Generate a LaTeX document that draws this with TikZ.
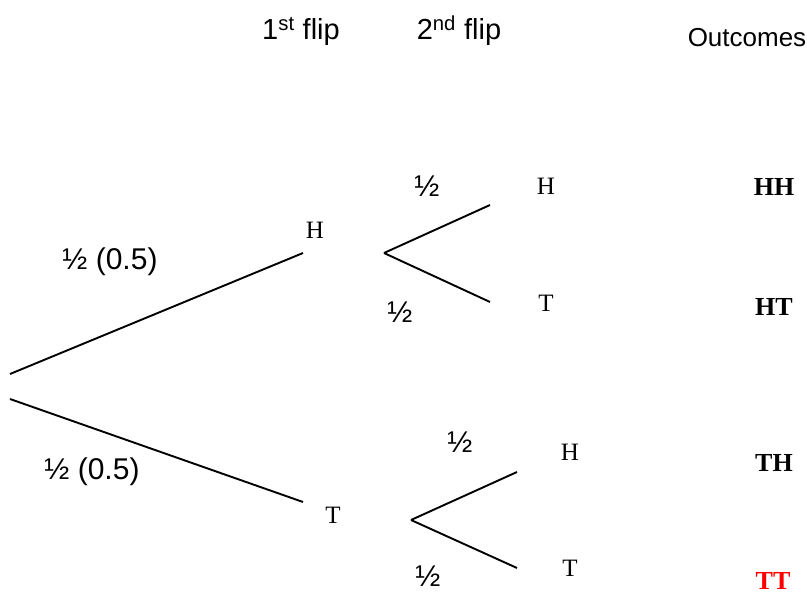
\documentclass[tikz,border=0pt]{standalone}
\usepackage{fontspec}
\setmainfont{Liberation Serif}
\newfontfamily\headfont{Liberation Sans}
\tikzset{
  branch/.style={line width=1.9pt},
  head/.style={font=\headfont\fontsize{26}{30}\selectfont, anchor=base},
  prob/.style={font=\headfont\fontsize{30}{34}\selectfont},
  face/.style={font=\fontsize{25}{29}\selectfont},
  outcome/.style={font=\bfseries\fontsize{26}{30}\selectfont},
}
\begin{document}
\begin{tikzpicture}[x=1pt, y=-1pt]
  \useasboundingbox (0,0) rectangle (807,594);
  % headings
  \node[head, font=\headfont\fontsize{29}{33}\selectfont] (first)  at (301,40) {1\textsuperscript{st} flip};
  \node[head, font=\headfont\fontsize{29}{33}\selectfont] (second) at (459,40) {2\textsuperscript{nd} flip};
  \node[head] (outc)   at (747,47) {Outcomes};
  % branch points
  \coordinate (rootH) at (10,374);
  \coordinate (rootT) at (10,399);
  \coordinate (endH)  at (303,253);
  \coordinate (endT)  at (303,502);
  \coordinate (forkH) at (384,253);
  \coordinate (forkT) at (411,520);
  \coordinate (HH) at (490,205);
  \coordinate (HT) at (490,302);
  \coordinate (TH) at (517,472);
  \coordinate (TT) at (517,568);
  % first flip
  \draw[branch] (rootH) -- (endH);
  \draw[branch] (rootT) -- (endT);
  \node[prob] (pH) at (110,262) {½ (0.5)};
  \node[prob] (pT) at (92,472) {½ (0.5)};
  \node[face] (H1) at (315,230) {H};
  \node[face] (T1) at (333,515) {T};
  % second flip
  \draw[branch] (forkH) -- (HH);
  \draw[branch] (forkH) -- (HT);
  \draw[branch] (forkT) -- (TH);
  \draw[branch] (forkT) -- (TT);
  \node[prob] (pHH) at (427,186) {½};
  \node[prob] (pHT) at (400,312) {½};
  \node[prob] (pTH) at (460,442) {½};
  \node[prob] (pTT) at (428,576) {½};
  \node[face] (H2) at (546,186) {H};
  \node[face] (T2) at (546,303) {T};
  \node[face] (H3) at (570,452) {H};
  \node[face] (T3) at (570,568) {T};
  % outcomes
  \node[outcome] (oHH) at (774,187) {HH};
  \node[outcome] (oHT) at (774,307) {HT};
  \node[outcome] (oTH) at (774,463) {TH};
  \node[outcome, red] (oTT) at (773,581) {TT};
\end{tikzpicture}
\end{document}
